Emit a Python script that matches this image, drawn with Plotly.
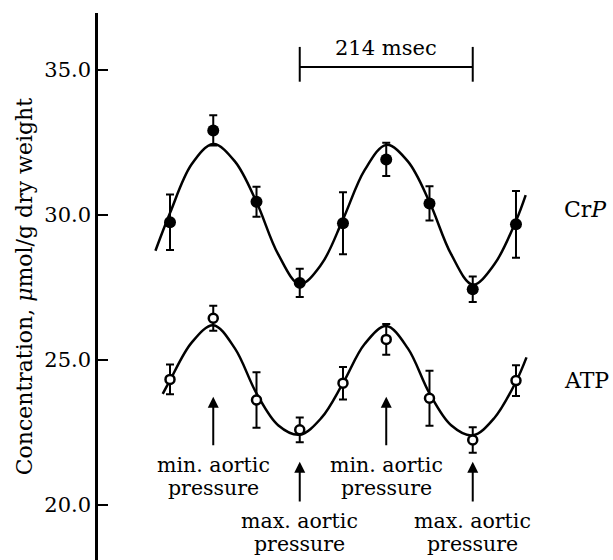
import plotly.graph_objects as go

# Sampling times (msec) across two cardiac cycles; one cycle = 214 msec
time_ms = [0, 53.5, 107, 160.5, 214, 267.5, 321, 374.5, 428]

# Creatine phosphate (filled circles), mean and SEM, umol/g dry weight
crp_mean = [29.75, 32.92, 30.46, 27.66, 29.72, 31.92, 30.40, 27.44, 29.68]
crp_sem = [0.96, 0.52, 0.52, 0.49, 1.07, 0.57, 0.59, 0.44, 1.15]

# ATP (open circles), mean and SEM
atp_mean = [24.33, 26.44, 23.62, 22.59, 24.20, 25.71, 23.68, 22.24, 24.29]
atp_sem = [0.51, 0.43, 0.96, 0.43, 0.56, 0.53, 0.95, 0.44, 0.53]

# Fitted periodic curves (nodes of the smooth fit)
crp_fit_t = [-18, 0, 26.75, 53.5, 80.25, 107, 133.75, 160.5, 187.25, 214,
             240.75, 267.5, 294.25, 321, 347.75, 374.5, 401.25, 428, 440]
crp_fit_v = [28.77, 30.07, 31.75, 32.45, 31.85, 30.45, 28.65, 27.62, 28.30, 29.85,
             31.55, 32.42, 31.85, 30.45, 28.65, 27.60, 28.30, 29.80, 30.69]
atp_fit_t = [-9, 0, 26.75, 53.5, 80.25, 107, 133.75, 160.5, 187.25, 214,
             240.75, 267.5, 294.25, 321, 347.75, 374.5, 401.25, 428, 441]
atp_fit_v = [23.83, 24.30, 25.60, 26.20, 25.40, 23.85, 22.75, 22.42, 23.00, 24.20,
             25.55, 26.17, 25.40, 23.85, 22.75, 22.40, 23.00, 24.25, 25.09]

cycle_ms = 214
y_ticks = [20.0, 25.0, 30.0, 35.0]

FONT = "DejaVu Serif"


def txt(size):
    return dict(family=FONT, size=size, color="black")


fig = go.Figure()

# fitted curves
for t, v in ((crp_fit_t, crp_fit_v), (atp_fit_t, atp_fit_v)):
    fig.add_trace(go.Scatter(x=t, y=v, mode="lines",
                             line=dict(color="black", width=2.5, shape="spline", smoothing=1.0),
                             hoverinfo="skip", showlegend=False))

# measured points with error bars
fig.add_trace(go.Scatter(
    x=time_ms, y=crp_mean, mode="markers",
    marker=dict(symbol="circle", size=12, color="black"),
    error_y=dict(type="data", array=crp_sem, color="black", thickness=2, width=4),
    showlegend=False, name="CrP"))
fig.add_trace(go.Scatter(
    x=time_ms, y=atp_mean, mode="markers",
    marker=dict(symbol="circle", size=9, color="white", line=dict(color="black", width=2.5)),
    error_y=dict(type="data", array=atp_sem, color="black", thickness=2, width=4),
    showlegend=False, name="ATP"))

# 214 msec scale bar between the two pressure maxima
bar_x0 = time_ms[3]
bar_x1 = time_ms[3] + cycle_ms
fig.add_shape(type="line", x0=bar_x0, x1=bar_x1, y0=35.11, y1=35.11,
              line=dict(color="black", width=2))
for xb in (bar_x0, bar_x1):
    fig.add_shape(type="line", x0=xb, x1=xb, y0=34.60, y1=35.80,
                  line=dict(color="black", width=2))
fig.add_annotation(x=(bar_x0 + bar_x1) / 2, y=35.76, text="214 msec",
                   showarrow=False, font=txt(21))

# series labels
fig.add_annotation(x=485, y=30.2, text="Cr<i>P</i>", showarrow=False, xanchor="left",
                   font=txt(22))
fig.add_annotation(x=485, y=24.3, text="ATP", showarrow=False, xanchor="left",
                   font=txt(22))

# pressure markers
min_idx = [1, 5]
max_idx = [3, 7]
for i in min_idx:
    fig.add_annotation(x=time_ms[i], y=23.73, ax=time_ms[i], ay=22.01,
                       xref="x", yref="y", axref="x", ayref="y", text="",
                       showarrow=True, arrowhead=2, arrowsize=1.1, arrowwidth=2, arrowcolor="black")
    fig.add_annotation(x=time_ms[i], y=21.38, text="min. aortic", showarrow=False,
                       borderpad=0, font=txt(20.5))
    fig.add_annotation(x=time_ms[i], y=20.60, text="pressure", showarrow=False,
                       borderpad=0, font=txt(20.5))
for i in max_idx:
    fig.add_annotation(x=time_ms[i], y=21.49, ax=time_ms[i], ay=20.07,
                       xref="x", yref="y", axref="x", ayref="y", text="",
                       showarrow=True, arrowhead=2, arrowsize=1.1, arrowwidth=2, arrowcolor="black")
    fig.add_annotation(x=time_ms[i], y=19.44, text="max. aortic", showarrow=False,
                       borderpad=0, font=txt(20.5))
    fig.add_annotation(x=time_ms[i], y=18.66, text="pressure", showarrow=False,
                       borderpad=0, font=txt(20.5))

# y-axis title
fig.add_annotation(xref="paper", yref="paper", x=-0.142, y=0.5,
                   xanchor="center", yanchor="middle",
                   text="Concentration, <i>μ</i>mol/g dry weight", textangle=-90,
                   showarrow=False, font=txt(22))

fig.update_layout(
    width=613, height=560,
    margin=dict(l=98, r=0, t=13, b=0),
    paper_bgcolor="white", plot_bgcolor="white",
    xaxis=dict(visible=False, range=[-89.06, 548.0]),
    yaxis=dict(range=[18.1, 36.97], showgrid=False, zeroline=False,
               showline=True, linecolor="black", linewidth=2.5,
               ticks="inside", ticklen=10, tickwidth=2, tickcolor="black",
               tickvals=y_ticks, ticktext=[f"{v:.1f}" for v in y_ticks],
               tickfont=txt(21)),
)

fig.write_html("out.html")
